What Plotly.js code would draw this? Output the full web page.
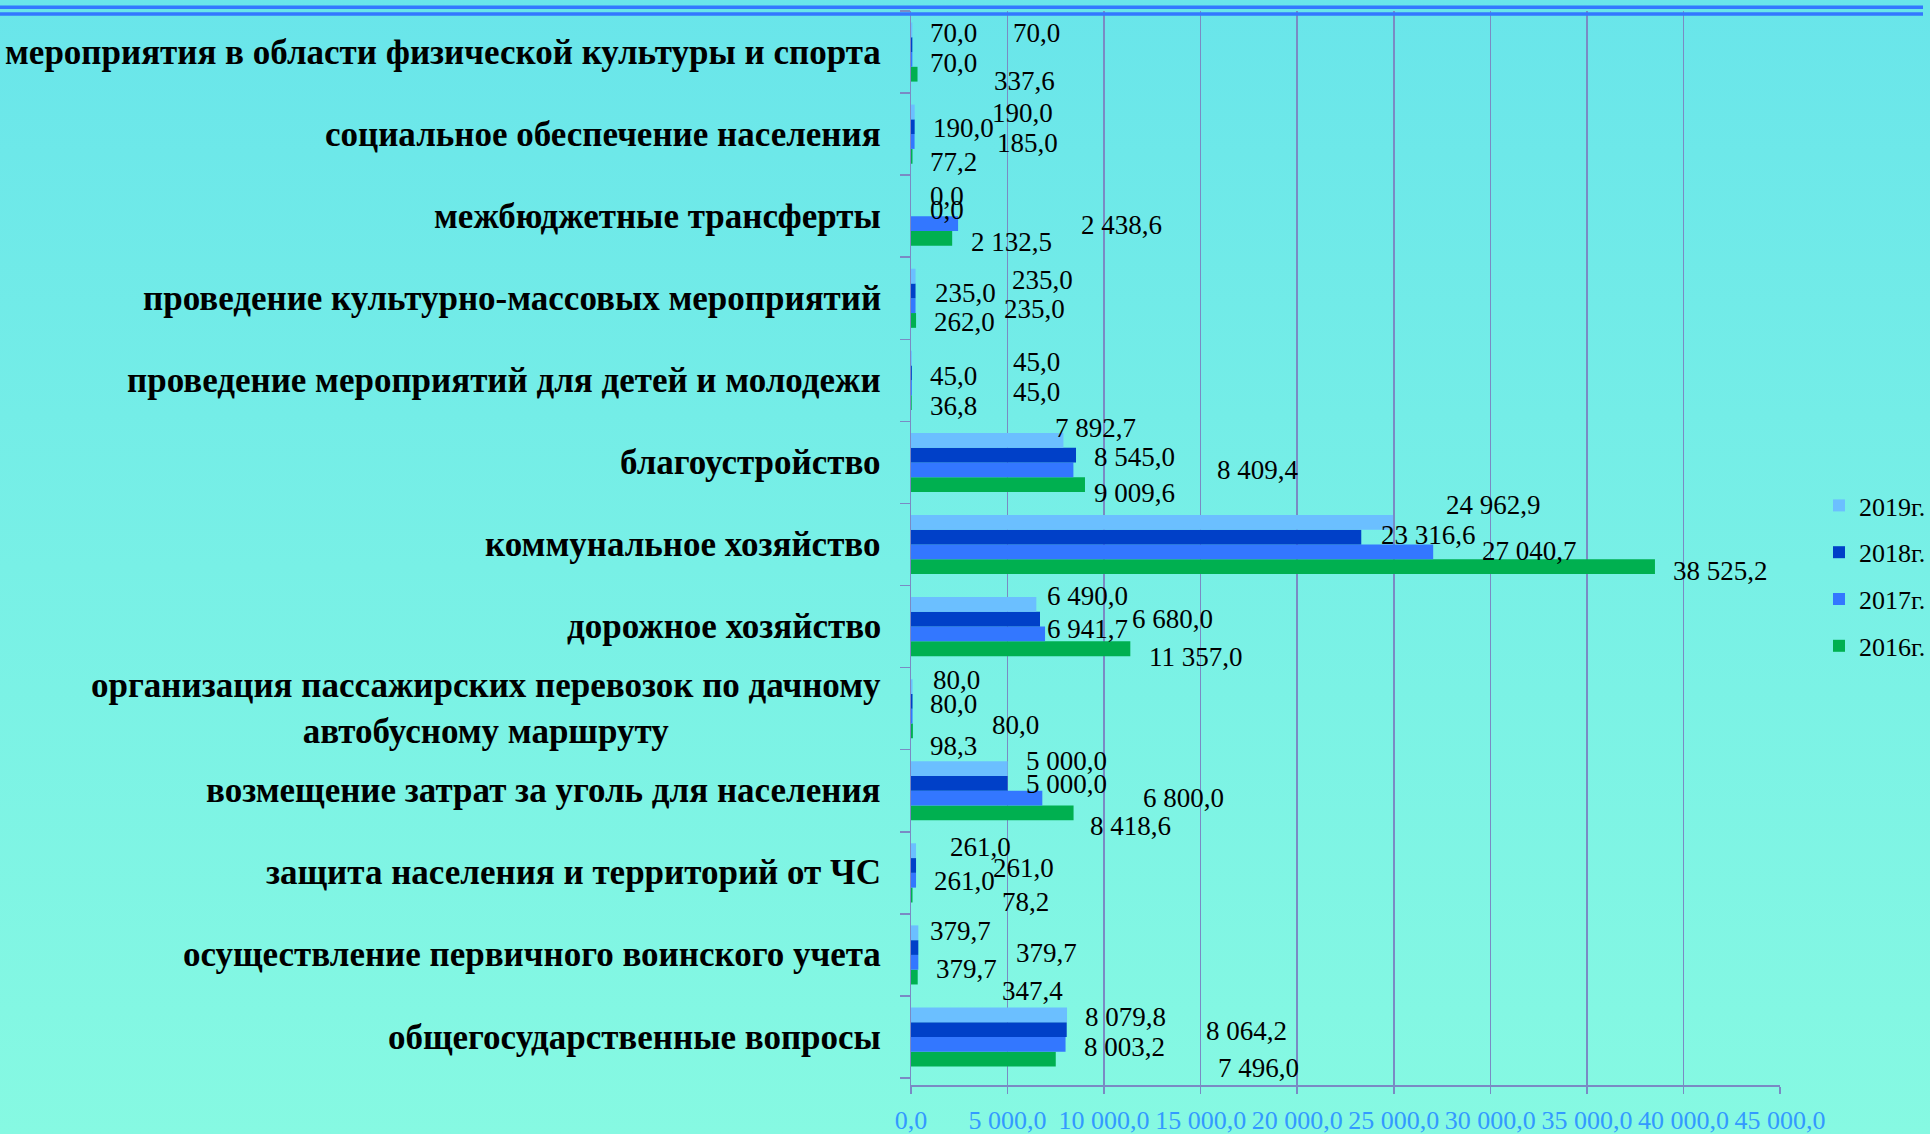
<!DOCTYPE html>
<html>
<head>
<meta charset="utf-8">
<script src="https://cdn.plot.ly/plotly-3.0.1.min.js"></script>
<style>
  html, body { margin: 0; padding: 0; }
  body { width: 1930px; height: 1134px; background: linear-gradient(to bottom, #69e5ea 0%, #78f0e6 50%, #86f9e2 100%); overflow: hidden; }
  #chart { width: 1930px; height: 1134px; }
</style>
</head>
<body>
<div id="chart"></div>
<script>
// ---- data (top-to-bottom order as in the picture) ----
const categories = [
  "мероприятия в области физической культуры и спорта",
  "социальное обеспечение населения",
  "межбюджетные трансферты",
  "проведение культурно-массовых мероприятий",
  "проведение мероприятий для детей и молодежи",
  "благоустройство",
  "коммунальное хозяйство",
  "дорожное хозяйство",
  "организация пассажирских перевозок по дачному<br>автобусному маршруту",
  "возмещение затрат за уголь для населения",
  "защита населения и территорий от ЧС",
  "осуществление первичного воинского учета",
  "общегосударственные вопросы"
];
const seriesNames = ["2016г.", "2017г.", "2018г.", "2019г."];
const values2016 = [337.6, 77.2, 2132.5, 262.0, 36.8, 9009.6, 38525.2, 11357.0, 98.3, 8418.6, 78.2, 347.4, 7496.0];
const values2017 = [70.0, 185.0, 2438.6, 235.0, 45.0, 8409.4, 27040.7, 6941.7, 80.0, 6800.0, 261.0, 379.7, 8003.2];
const values2018 = [70.0, 190.0, 0.0, 235.0, 45.0, 8545.0, 23316.6, 6680.0, 80.0, 5000.0, 261.0, 379.7, 8064.2];
const values2019 = [70.0, 190.0, 0.0, 235.0, 45.0, 7892.7, 24962.9, 6490.0, 80.0, 5000.0, 261.0, 379.7, 8079.8];

// ---- styling / label placement (pixel offsets of each data label from its bar end / category centre) ----
const colors = { "2016г.": "#00b050", "2017г.": "#3377ff", "2018г.": "#0040c8", "2019г.": "#6bbfff" };
const legendRanks = { "2019г.": 1, "2018г.": 2, "2017г.": 3, "2016г.": 4 };
const labelDx = {
  "2019г.": [16, 75, 17, 94, 99, -10, 51, 9, 18, 16, 32, 10, 16],
  "2018г.": [99, 16, 17, 17, 16, 16, 18, 90, 15, 16, 75, 96, 137],
  "2017г.": [16, 80, 121, 86, 99, 142, 47, 0, 77, 99, 16, 16, 16],
  "2016г.": [74, 16, 17, 16, 16, 7, 16, 17, 15, 14, 87, 82, 160]
};
const labelDy = {
  "2019г.": [-19, -21, -20, -18, -18, -34, -40, -31, -29, -30, -26, -24, -20],
  "2018г.": [-19, -6, -6, -5, -4, -5, -10, -8, -5, -7, -5, -2, -6],
  "2017г.": [11, 9, 9, 11, 12, 8, 6, 2, 16, 7, 8, 14, 10],
  "2016г.": [29, 28, 26, 24, 26, 31, 26, 30, 37, 35, 29, 36, 31]
};

function fmt(v) {
  const p = v.toFixed(1).split('.');
  return p[0].replace(/\B(?=(\d{3})+(?!\d))/g, ' ') + ',' + p[1];
}

const seriesValues = { "2016г.": values2016, "2017г.": values2017, "2018г.": values2018, "2019г.": values2019 };

const traces = seriesNames.map(name => ({
  type: 'bar',
  orientation: 'h',
  name: name,
  legendgroup: name,
  legendrank: legendRanks[name],
  x: seriesValues[name],
  y: categories,
  marker: { color: colors[name], line: { width: 0 } },
  hoverinfo: 'x+name'
}));

const annotations = [];
// category labels
categories.forEach(c => {
  annotations.push({
    x: 0, xref: 'paper', y: c, yref: 'y',
    xanchor: 'right', yanchor: 'middle', xshift: -28,
    text: c, showarrow: false, align: 'center',
    font: { family: 'Liberation Serif, serif', size: 35, color: '#000000', weight: 'bold' }
  });
});
// data labels
seriesNames.forEach(name => {
  seriesValues[name].forEach((v, i) => {
    annotations.push({
      x: v, xref: 'x', y: categories[i], yref: 'y',
      xanchor: 'left', yanchor: 'middle',
      xshift: labelDx[name][i], yshift: -labelDy[name][i],
      text: fmt(v), showarrow: false,
      font: { family: 'Liberation Serif, serif', size: 27, color: '#000000' }
    });
  });
});

const lineColor = '#3377ff';
const gridColor = '#7a8ac4';
const plotL = 911, plotR = 1780, plotT = 11, plotB = 1085;
function px2paperX(px) { return (px - plotL) / (plotR - plotL); }
function px2paperY(py) { return (plotB - py) / (plotB - plotT); }

const shapes = [
  { type: 'line', xref: 'paper', yref: 'paper', x0: px2paperX(0), x1: px2paperX(1923), y0: px2paperY(7.2), y1: px2paperY(7.2), line: { color: lineColor, width: 3.5 } },
  { type: 'line', xref: 'paper', yref: 'paper', x0: px2paperX(0), x1: px2paperX(1923), y0: px2paperY(14), y1: px2paperY(14), line: { color: lineColor, width: 3.5 } }
];

const layout = {
  width: 1930, height: 1134,
  margin: { l: plotL, r: 1930 - plotR, t: plotT, b: 1134 - plotB, pad: 0, autoexpand: false },
  paper_bgcolor: 'rgba(0,0,0,0)',
  plot_bgcolor: 'rgba(0,0,0,0)',
  separators: ', ',
  barmode: 'group',
  bargap: 0.28,
  bargroupgap: 0,
  showlegend: true,
  legend: {
    xref: 'container', yref: 'container',
    x: 1819 / 1930, xanchor: 'left',
    y: 1 - 576 / 1134, yanchor: 'middle',
    traceorder: 'grouped',
    tracegroupgap: 10,
    font: { family: 'Liberation Serif, serif', size: 26, color: '#000000' },
    bgcolor: 'rgba(0,0,0,0)'
  },
  xaxis: {
    range: [0, 45000], dtick: 5000, tick0: 0,
    tickformat: ',.1f',
    showgrid: true, gridcolor: gridColor, gridwidth: 1.5,
    zeroline: false,
    showline: true, linecolor: gridColor, linewidth: 1.5,
    ticks: 'outside', ticklen: 7, tickcolor: gridColor, tickwidth: 1.5,
    ticklabelstandoff: 4,
    automargin: false,
    tickfont: { family: 'Liberation Serif, serif', size: 26, color: '#3399ff' },
    fixedrange: true
  },
  yaxis: {
    type: 'category',
    categoryorder: 'array',
    categoryarray: categories.slice().reverse(),
    showticklabels: false,
    showgrid: false, zeroline: false,
    showline: true, linecolor: gridColor, linewidth: 1.5,
    ticks: 'outside', ticklen: 10, tickcolor: gridColor, tickwidth: 1.5,
    tickson: 'boundaries',
    automargin: false,
    fixedrange: true
  },
  annotations: annotations,
  shapes: shapes
};

Plotly.newPlot('chart', traces, layout, { displayModeBar: false, staticPlot: true });
</script>
</body>
</html>
